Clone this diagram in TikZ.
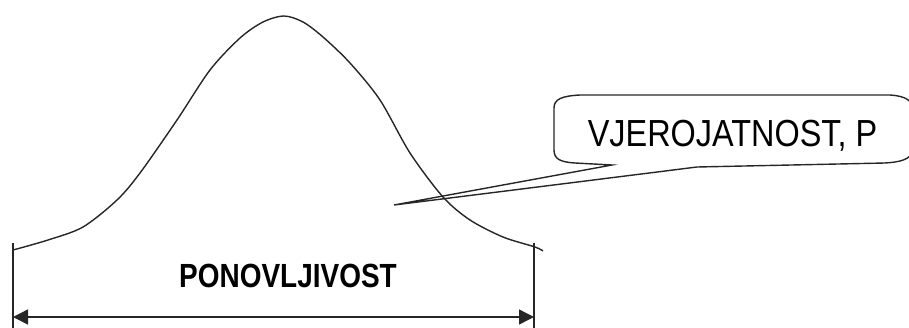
\documentclass[tikz,border=0pt]{standalone}
\usepackage{fontspec}
\setmainfont{Liberation Sans}
\usetikzlibrary{arrows.meta}

\begin{document}
\begin{tikzpicture}[x=1pt,y=-1pt,line width=1.4pt,every node/.style={inner sep=0pt}]
\useasboundingbox (0,0) rectangle (909,327);
\clip (0,0) rectangle (909,327);

% bell curve
\draw[black!85] plot[smooth,tension=0.5] coordinates {(13,250) (48,240) (83,227) (117,200) (140,173) (177,120) (210,70) (240,38) (263,22) (284,16) (303,22) (323,37) (350,63) (380,100) (410,153) (443,197) (470,220) (503,237) (535,247) (543,251)};

% limits
\draw[black!85] (13,243) -- (13,330);
\draw[black!85] (534,243) -- (534,330);

\coordinate (L) at (13,317);
\coordinate (R) at (534,317);
\draw[black!85,{Triangle[length=15pt,width=15pt]}-{Triangle[length=15pt,width=15pt]}] (L) -- (R);

\node[anchor=base,xscale=0.835] (range) at (288,287) {\fontsize{33.5}{36}\selectfont\bfseries PONOVLJIVOST};

% callout
\draw[black!85] (554,108) .. controls (554,99) and (562,96) .. (580,95) -- (890,95)
  .. controls (905,96) and (912,100) .. (914,110) -- (914,150)
  .. controls (910,160) and (900,162) .. (885,163) -- (697,167) -- (394,205) -- (612,165)
  -- (575,163) .. controls (560,162) and (554,159) .. (554,150) -- cycle;
\node[anchor=base,xscale=0.86] (prob) at (732.5,146) {\fontsize{37.7}{40}\selectfont VJEROJATNOST, P};
\end{tikzpicture}
\end{document}
